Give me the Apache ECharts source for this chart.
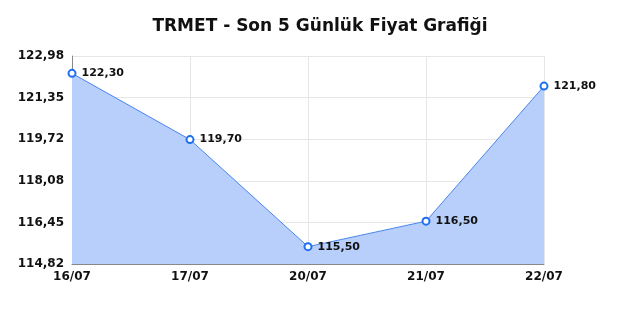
<!DOCTYPE html>
<html>
<head>
<meta charset="utf-8">
<script src="https://cdn.jsdelivr.net/npm/echarts@6/dist/echarts.min.js"></script>
<style>html,body{margin:0;padding:0;background:#fff}#c{width:640px;height:320px}</style>
</head>
<body>
<div id="c"></div>
<script>
var titleText = 'TRMET - Son 5 Günlük Fiyat Grafiği';
var categories = ['16/07', '17/07', '20/07', '21/07', '22/07'];
var prices = [122.30, 119.70, 115.50, 116.50, 121.80];
var yTicks = [114.82, 116.452, 118.084, 119.716, 121.348, 122.98];
var yMin = 114.82, yMax = 122.98;

function fmt(v) { return Number(v).toFixed(2).replace('.', ','); }

var chart = echarts.init(document.getElementById('c'), null, {renderer: 'canvas'});
chart.setOption({
  animation: false,
  backgroundColor: '#ffffff',
  textStyle: {fontFamily: 'DejaVu Sans'},
  title: {
    text: titleText,
    left: 'center',
    top: 13,
    textStyle: {fontFamily: 'DejaVu Sans', fontWeight: 'bold', fontSize: 17, color: '#111'}
  },
  grid: {left: 72, right: 96, top: 56, bottom: 56, containLabel: false},
  xAxis: {
    type: 'category',
    data: categories,
    boundaryGap: false,
    axisLine: {show: true, lineStyle: {color: '#888', width: 1}},
    axisTick: {show: false},
    axisLabel: {fontFamily: 'DejaVu Sans', fontWeight: 'bold', fontSize: 12, color: '#111', margin: 7},
    splitLine: {show: true, lineStyle: {color: '#e6e6e6', width: 1}}
  },
  yAxis: {
    type: 'value',
    min: yMin,
    max: yMax,
    axisLine: {show: true, lineStyle: {color: '#888', width: 1}},
    axisTick: {show: false, customValues: yTicks},
    axisLabel: {
      customValues: yTicks,
      fontFamily: 'DejaVu Sans', fontWeight: 'bold', fontSize: 12, color: '#111', margin: 8,
      formatter: function (v) { return fmt(v); }
    },
    splitLine: {show: true, lineStyle: {color: '#e6e6e6', width: 1}}
  },
  series: [{
    type: 'line',
    data: prices,
    symbol: 'emptyCircle',
    symbolSize: 7,
    showAllSymbol: true,
    lineStyle: {color: '#4a86ee', width: 1},
    itemStyle: {color: '#1f6ff0', borderWidth: 1.5},
    areaStyle: {color: '#b7cffa', opacity: 1, origin: 'start'},
    label: {
      show: true,
      position: 'right',
      distance: 5,
      fontFamily: 'DejaVu Sans', fontWeight: 'bold', fontSize: 11, color: '#111',
      formatter: function (p) { return fmt(p.value); }
    }
  }]
});
</script>
</body>
</html>
